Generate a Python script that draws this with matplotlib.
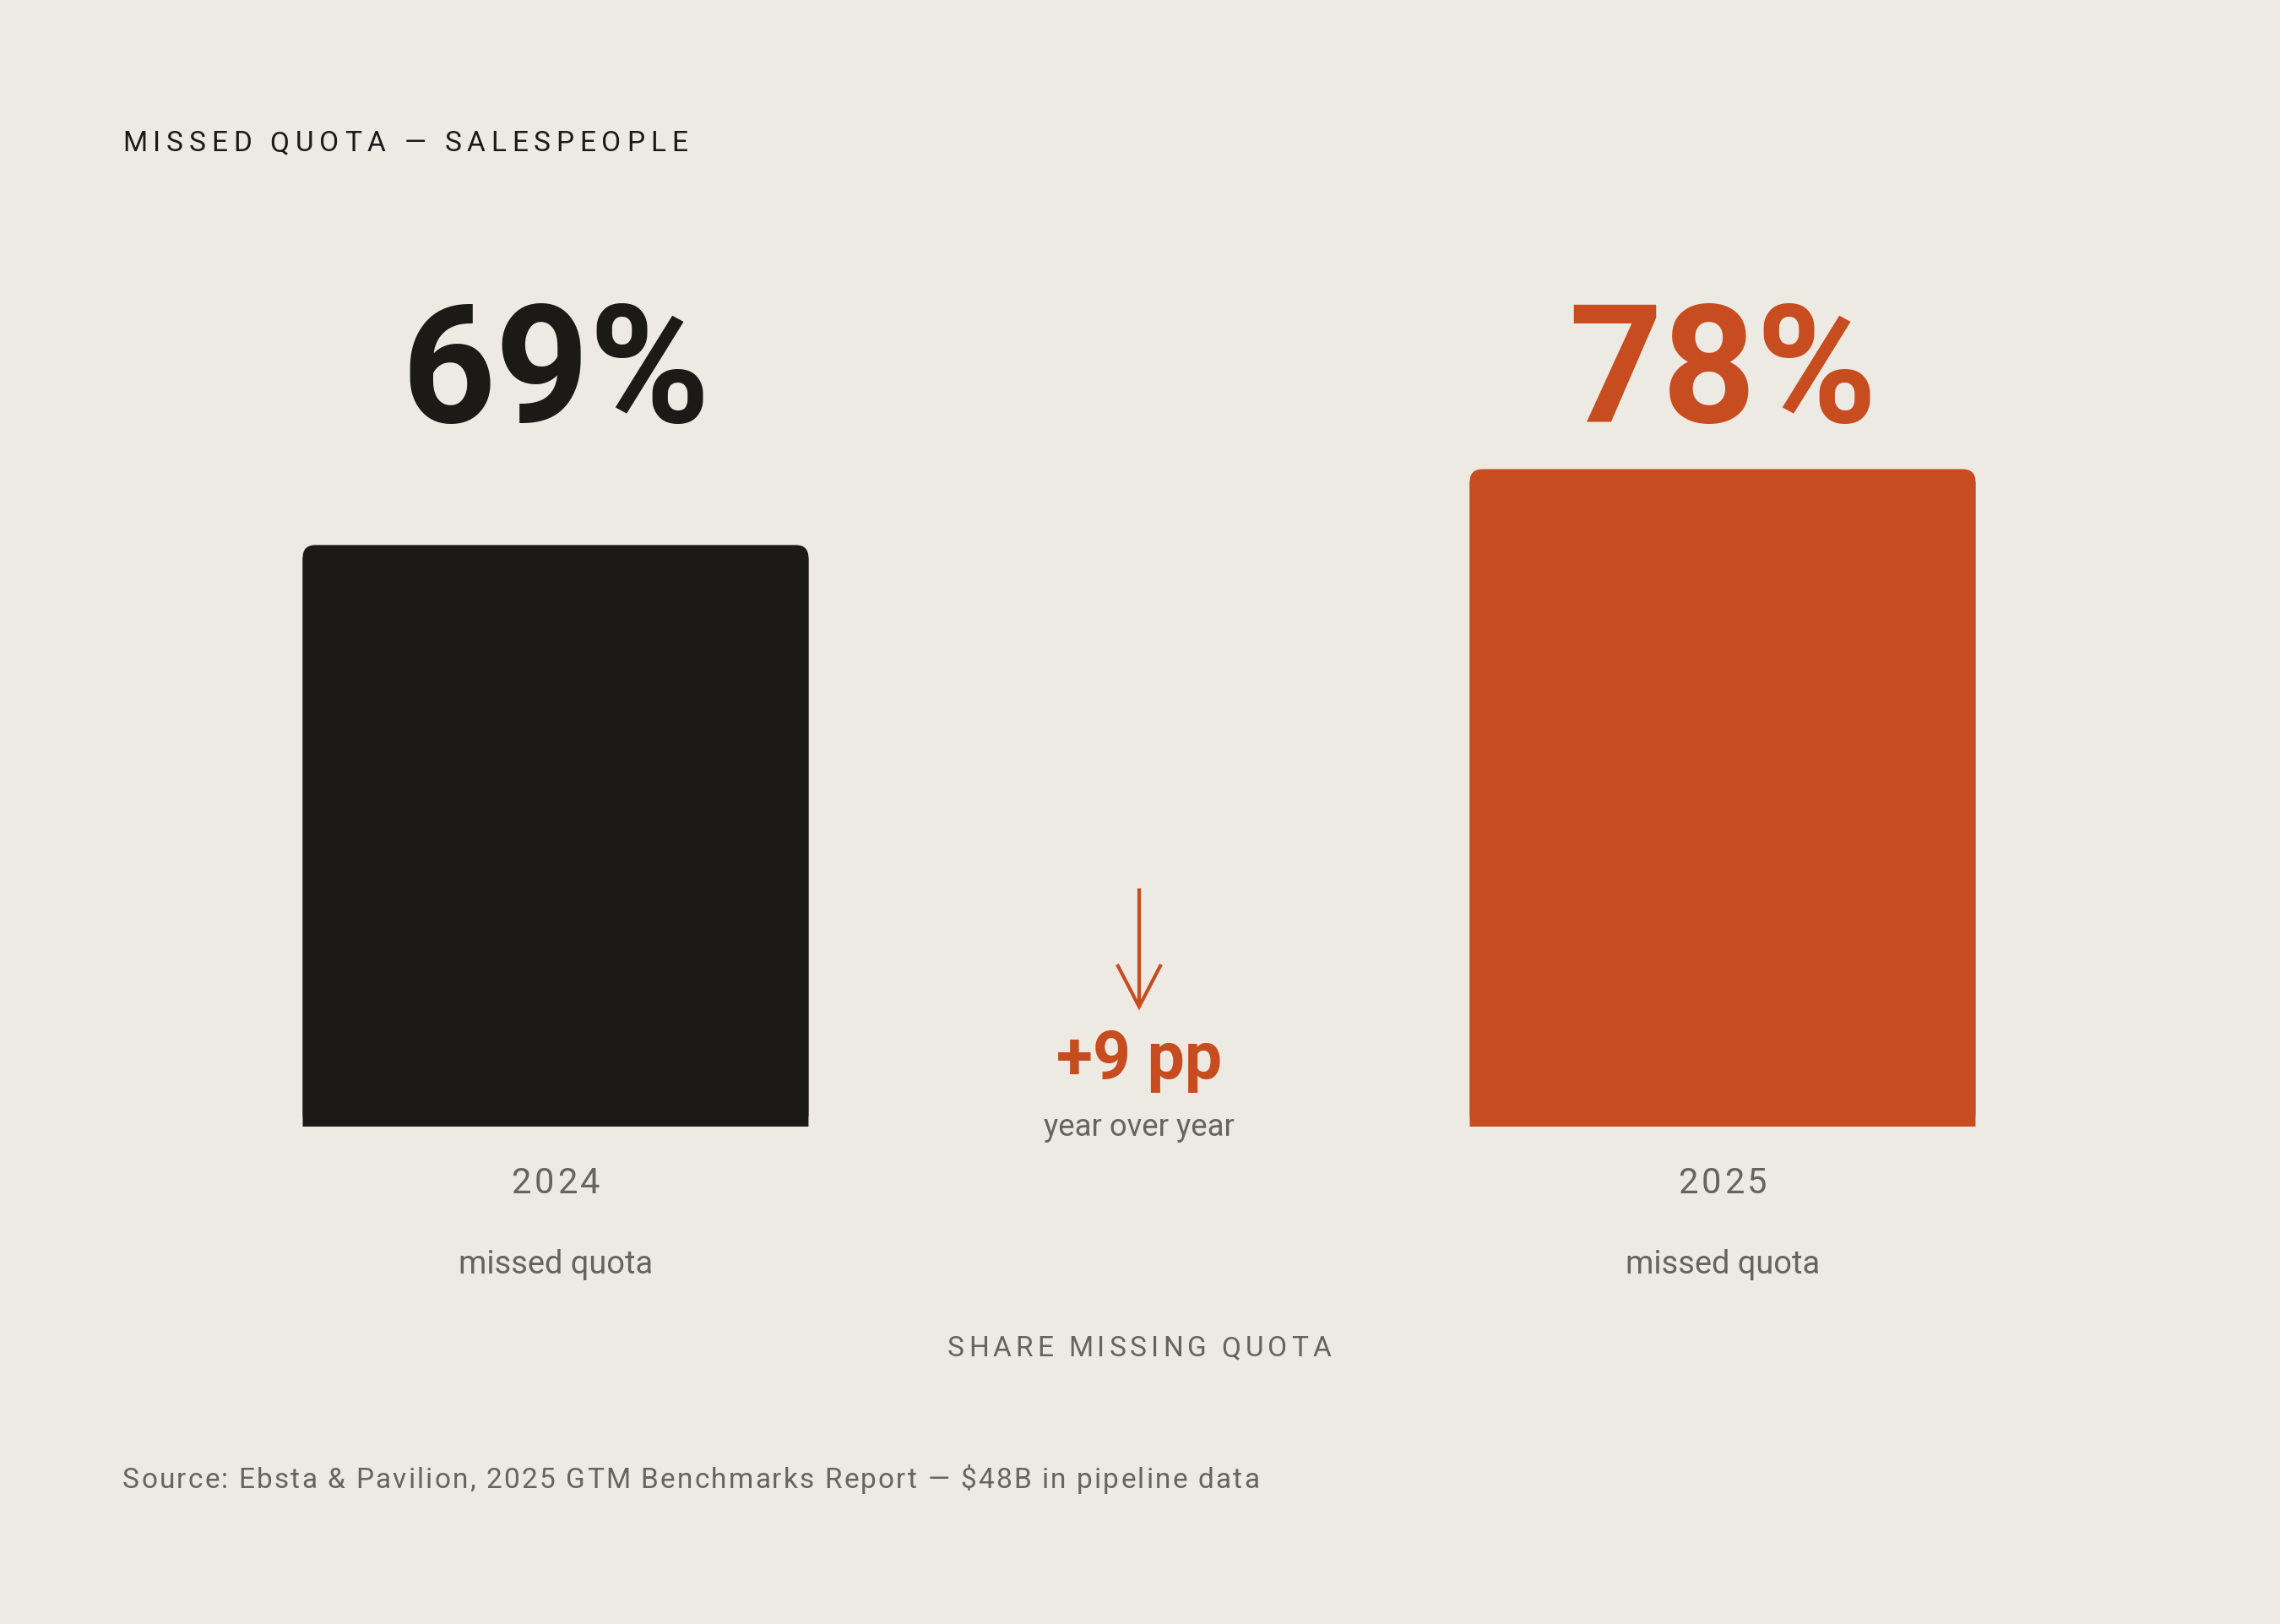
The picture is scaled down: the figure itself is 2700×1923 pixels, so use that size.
import matplotlib
matplotlib.use("Agg")
import matplotlib.pyplot as plt
from matplotlib.patches import FancyBboxPatch

# canvas (pixels) and palette
W, H = 2700, 1923
BG = "#EDEAE4"
INK = "#1B1A16"
RUST = "#C74C20"
GREY = "#66645E"
FONT = ["Roboto", "DejaVu Sans"]

# data
years = ["2024", "2025"]
missed_pct = [69, 78]
bar_colors = [INK, RUST]
bar_caption = "missed quota"
title = "MISSED QUOTA \u2014 SALESPEOPLE"
axis_caption = "SHARE MISSING QUOTA"
delta_caption = "year over year"
source = "Source: Ebsta & Pavilion, 2025 GTM Benchmarks Report \u2014 $48B in pipeline data"

fig = plt.figure(figsize=(W / 100, H / 100), dpi=100, facecolor=BG)

# bar axes: baseline at y=1334px from top, 100% = 998px
ax = fig.add_axes([0, (H - 1334) / H, 1, 998 / H])
ax.set_xlim(-0.4761, 1.4776)
ax.set_ylim(0, 100)
ax.axis("off")
bars = ax.bar(range(len(years)), missed_pct, width=0.4334, color=bar_colors, linewidth=0)

# rounded top corners
px_x = ax.transData.transform((1, 0))[0] - ax.transData.transform((0, 0))[0]
px_y = ax.transData.transform((0, 1))[1] - ax.transData.transform((0, 0))[1]
r_px = 15
for rect in bars:
    x, y0, w, h = rect.get_x(), rect.get_y(), rect.get_width(), rect.get_height()
    rect.set_height(h - r_px / px_y)
    rect.set_snap(False)
    ax.add_patch(FancyBboxPatch((x, y0), w, h,
                                boxstyle=f"round,pad=0,rounding_size={r_px / px_x}",
                                mutation_aspect=px_x / px_y,
                                fc=rect.get_facecolor(), lw=0))

# overlay in pixel coordinates (y from top) for the annotations
deco = fig.add_axes([0, 0, 1, 1])
deco.set_xlim(0, W)
deco.set_ylim(H, 0)
deco.axis("off")
renderer = fig.canvas.get_renderer()


def text_width(s, size, weight="normal"):
    t = deco.text(0, 0, s, fontsize=size, family=FONT, weight=weight)
    wd = t.get_window_extent(renderer).width
    t.remove()
    return wd


def label(x, y, s, size, width, ha="center", color=GREY, weight="normal", track=False):
    """Put text on the baseline y; fit it to width by font size,
    or by letter spacing when track=True."""
    if not track:
        size = size * width / text_width(s, size, weight)
        deco.text(x, y, s, fontsize=size, family=FONT, weight=weight,
                  color=color, ha=ha, va="baseline")
        return
    base = text_width("||", size, weight)
    adv = [text_width("|" + c + "|", size, weight) - base for c in s]
    gap = (width - sum(adv)) / (len(s) - 1)
    x0 = x if ha == "left" else x - width / 2
    for c, a in zip(s, adv):
        if c != " ":
            deco.text(x0, y, c, fontsize=size, family=FONT, weight=weight,
                      color=color, ha="left", va="baseline")
        x0 += a + gap


centers = [ax.transData.transform((i, 0))[0] for i in range(len(years))]
mid = sum(centers) / len(centers)

label(145, 179, title, 24, 669, ha="left", color=INK, track=True)

for cx, yr, v, col in zip(centers, years, missed_pct, bar_colors):
    label(cx, 500, f"{v}%", 140, 366, color=col, weight="bold")
    label(cx, 1413, yr, 30, 105, track=True)
    label(cx, 1508, bar_caption, 26, 230)

# change between the two years
deco.plot([mid, mid], [1052, 1190], color=RUST, lw=3, solid_capstyle="butt")
deco.plot([mid - 26, mid, mid + 26], [1142, 1192, 1142], color=RUST, lw=3,
          solid_joinstyle="miter", solid_capstyle="butt")
label(mid, 1278, f"+{missed_pct[1] - missed_pct[0]} pp", 54, 196, color=RUST, weight="bold")
label(mid, 1345, delta_caption, 26, 226)

label(mid, 1606, axis_caption, 24, 454, track=True)
label(145, 1762, source, 24, 1346, ha="left", track=True)

fig.savefig("out.png", dpi=100, facecolor=BG)
